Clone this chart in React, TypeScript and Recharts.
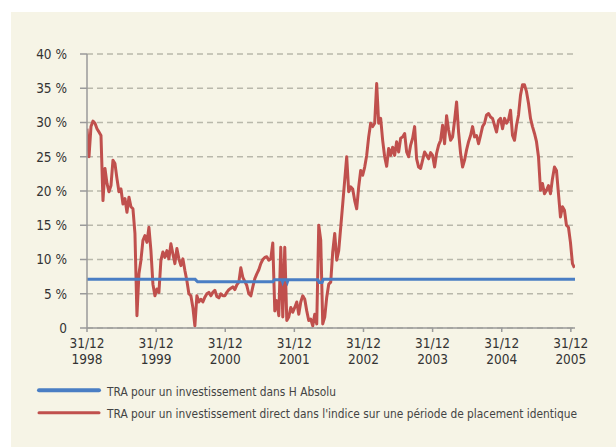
import { CartesianGrid, Line, LineChart, XAxis, YAxis } from "recharts";

const BG = "#f6f4e6";
const AXIS = "#9a9a9a";
const GRID = "#b9b8ab";
const TEXT = "#333333";
const RED = "#c0504d";
const BLUE = "#4a7ec4";
const TICK_FONT = "'DejaVu Sans Condensed', 'DejaVu Sans', sans-serif";
const LEGEND_FONT = "'Liberation Sans Narrow', 'DejaVu Sans Condensed', sans-serif";

// years since 31/12/1998, one tick per 31/12
const YEAR_TICKS = [0, 1, 2, 3, 4, 5, 6, 7];
const YEAR_LABELS = ["1998", "1999", "2000", "2001", "2002", "2003", "2004", "2005"];
const PCT_TICKS = [0, 5, 10, 15, 20, 25, 30, 35, 40];

const LEGEND = [
  { label: "TRA pour un investissement dans H Absolu", color: BLUE, width: 4, textWidth: 229 },
  {
    label: "TRA pour un investissement direct dans l'indice sur une période de placement identique",
    color: RED,
    width: 3,
    textWidth: 470,
  },
];

// red series, one value about every 10-11 days
const SAMPLES_PER_YEAR = 34.6;
const INDEX_TRA = [
  29.1, 25.0, 29.4, 30.2, 29.9, 29.1, 28.6, 28.1, 18.6, 23.3,
  21.1, 19.9, 20.8, 24.5, 24.0, 21.8, 19.9, 20.3, 18.1, 18.9,
  16.9, 19.1, 17.7, 17.4, 13.8, 1.8, 7.9, 9.9, 12.8, 13.5,
  12.5, 14.7, 11.3, 6.4, 4.7, 5.7, 5.2, 9.9, 11.1, 10.3,
  11.3, 10.1, 12.3, 10.8, 9.4, 11.6, 10.1, 9.1, 10.1, 8.4,
  6.9, 5.0, 4.7, 3.0, 0.3, 4.7, 3.8, 4.2, 3.8, 4.5,
  5.0, 5.2, 4.7, 5.2, 5.5, 4.6, 4.4, 5.0, 4.7, 4.7,
  5.2, 5.6, 5.8, 6.0, 5.6, 6.3, 6.7, 8.8, 7.4, 6.8,
  6.2, 5.0, 4.7, 6.0, 7.2, 7.9, 8.5, 9.4, 10.0, 10.3,
  10.4, 9.9, 10.1, 12.4, 2.5, 4.0, 1.8, 11.8, 1.6, 11.8,
  1.1, 1.6, 3.0, 2.3, 3.0, 3.8, 2.0, 3.8, 4.7, 4.2,
  2.5, 1.1, 1.3, 0.3, 2.0, 0.6, 15.0, 12.8, 0.6, 1.6,
  4.5, 6.4, 6.7, 11.1, 13.8, 9.9, 11.3, 14.7, 18.1, 21.6,
  25.0, 19.9, 20.6, 20.3, 18.6, 17.4, 20.6, 23.0, 22.3, 23.5,
  25.2, 27.9, 29.9, 29.4, 29.9, 35.7, 29.9, 30.6, 27.4, 25.0,
  23.6, 26.2, 25.2, 26.4, 25.2, 27.2, 25.7, 27.7, 27.9, 28.4,
  25.7, 25.0, 26.7, 27.7, 29.4, 24.7, 23.5, 23.3, 24.5, 25.7,
  25.2, 24.7, 25.6, 25.2, 23.5, 25.5, 26.7, 27.4, 29.6, 26.9,
  31.0, 28.9, 27.4, 27.9, 30.3, 33.0, 28.6, 25.5, 23.5, 24.5,
  26.0, 27.2, 28.1, 29.4, 27.9, 28.1, 26.9, 28.1, 29.4, 29.9,
  31.1, 31.3, 30.8, 30.6, 29.6, 28.6, 30.3, 30.6, 29.1, 30.6,
  29.9, 30.4, 31.8, 28.1, 27.4, 29.6, 31.1, 34.0, 35.5, 35.5,
  34.5, 32.8, 30.6, 29.4, 28.4, 27.2, 25.0, 20.1, 21.1, 19.6,
  20.1, 20.8, 19.6, 21.8, 23.5, 23.0, 19.6, 16.2, 17.7, 17.2,
  15.0, 14.7, 12.5, 9.4, 8.8,
];

// blue series: H Absolu, nearly flat
const FUND_T = [0, 1.565, 1.6, 2.69, 2.71, 2.82, 2.83, 2.84, 2.89, 2.9, 2.91, 3.34, 3.36, 3.4, 3.42, 7.06];
const FUND_TRA = [7.1, 7.1, 6.75, 6.75, 7.05, 7.05, 6.75, 7.05, 7.05, 6.75, 7.05, 7.05, 6.65, 6.65, 7.1, 7.1];

const indexData = INDEX_TRA.map((v, i) => ({ t: i / SAMPLES_PER_YEAR, red: v }));
const fundData = FUND_T.map((t, i) => ({ t, blue: FUND_TRA[i] }));

function YearTick({ x, y, payload }: any) {
  return (
    <text x={x} y={y} textAnchor="middle" fill={TEXT} fontSize={13.5} fontFamily={TICK_FONT}>
      <tspan x={x} dy={15.7}>31/12</tspan>
      <tspan x={x} dy={16.3}>{YEAR_LABELS[payload.value]}</tspan>
    </text>
  );
}

export default function App() {
  return (
    <div style={{ position: "absolute", left: 0, top: 0, width: 616, height: 447, background: "#ffffff" }}>
      <div style={{ position: "absolute", left: 11, top: 12, right: 0, bottom: 0, background: BG }} />
      <div style={{ position: "absolute", left: 0, top: 0 }}>
        <LineChart width={616} height={380} data={indexData} margin={{ top: 54, right: 41, left: 0, bottom: 12 }}>
          <CartesianGrid stroke={GRID} strokeWidth={1.5} strokeDasharray="6 4" vertical={false} />
          <XAxis
            dataKey="t"
            type="number"
            domain={[0, 7.06]}
            ticks={YEAR_TICKS}
            height={40}
            tick={<YearTick />}
            tickSize={4}
            tickMargin={0}
            stroke={AXIS}
            strokeWidth={1.5}
            allowDataOverflow
          />
          <YAxis
            type="number"
            domain={[0, 40]}
            ticks={PCT_TICKS}
            width={87}
            tickSize={7}
            tickMargin={13}
            stroke={AXIS}
            strokeWidth={1.5}
            tick={{ fill: TEXT, fontSize: 13.5, fontFamily: TICK_FONT }}
            tickFormatter={(v: number) => (v === 0 ? "0" : `${v} %`)}
          />
          <Line
            dataKey="red"
            type="linear"
            stroke={RED}
            strokeWidth={3}
            dot={false}
            strokeLinejoin="round"
            isAnimationActive={false}
          />
          <Line
            data={fundData}
            dataKey="blue"
            type="linear"
            stroke={BLUE}
            strokeWidth={3}
            dot={false}
            isAnimationActive={false}
          />
        </LineChart>
      </div>
      <svg style={{ position: "absolute", left: 0, top: 380 }} width={616} height={67}>
        {LEGEND.map((item, i) => (
          <g key={item.label}>
            <line
              x1={39}
              x2={99}
              y1={10.3 + i * 22.4}
              y2={10.3 + i * 22.4}
              stroke={item.color}
              strokeWidth={item.width}
              strokeLinecap="round"
            />
            <text
              x={107}
              y={15.7 + i * 22}
              fill="#444"
              fontSize={12.5}
              fontFamily={LEGEND_FONT}
              textLength={item.textWidth}
              lengthAdjust="spacingAndGlyphs"
            >
              {item.label}
            </text>
          </g>
        ))}
      </svg>
    </div>
  );
}
